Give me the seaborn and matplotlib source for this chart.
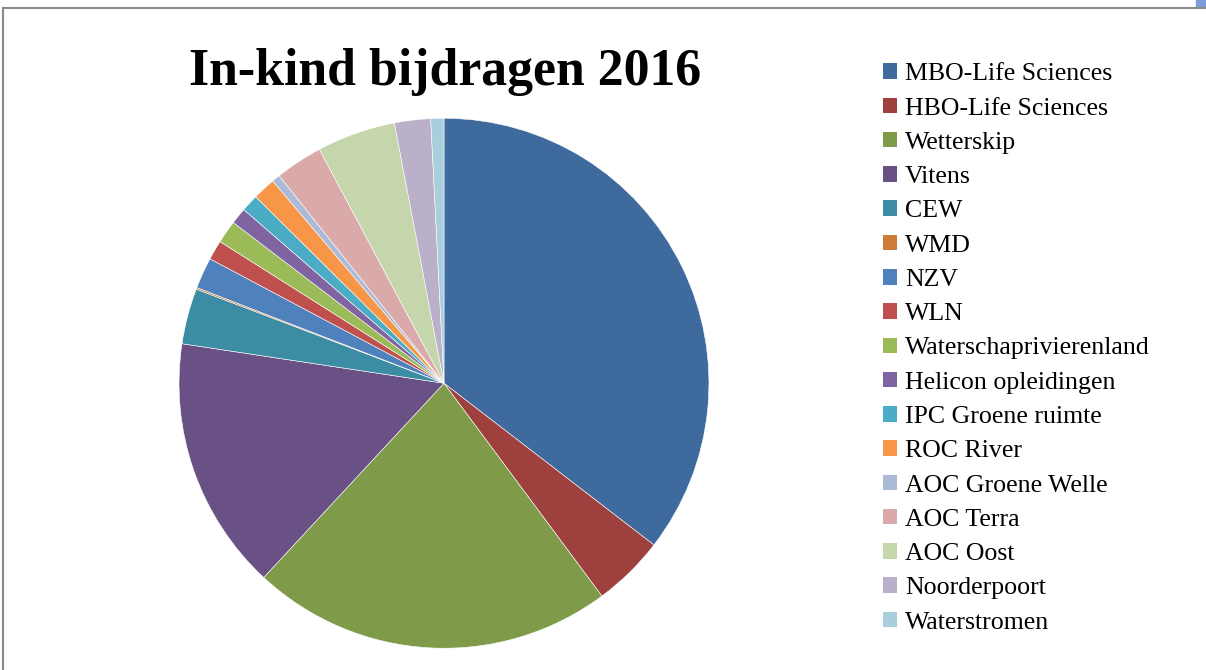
import matplotlib
matplotlib.use("Agg")
import matplotlib.pyplot as plt
import matplotlib.patches as mpatches
import matplotlib.lines as mlines
import seaborn as sns

# data (percent shares)
partners = ['MBO-Life Sciences', 'HBO-Life Sciences', 'Wetterskip', 'Vitens', 'CEW',
            'WMD', 'NZV', 'WLN', 'Waterschaprivierenland', 'Helicon opleidingen',
            'IPC Groene ruimte', 'ROC River', 'AOC Groene Welle', 'AOC Terra',
            'AOC Oost', 'Noorderpoort', 'Waterstromen']
bijdragen = [35.5, 4.4, 22.1, 15.5, 3.4, 0.1, 1.9, 1.2, 1.4, 1.0,
             1.05, 1.4, 0.5, 2.9, 4.8, 2.2, 0.8]
kleuren = ['#3F6A9E', '#9E413E', '#7F9A48', '#695185', '#3C8DA3', '#CC7B38',
           '#4F81BD', '#C0504D', '#9BBB59', '#8064A2', '#4BACC6', '#F79646',
           '#AABAD7', '#D9AAA9', '#C6D6AC', '#BAB0C9', '#A9CEDC']

sns.set_style("white")
plt.rcParams['font.family'] = ['Liberation Serif', 'DejaVu Serif']
plt.rcParams['text.color'] = 'black'

fig = plt.figure(figsize=(12.06, 6.70), dpi=100)
ax = fig.add_axes([0.1484, 0.0325, 0.4395, 0.791])

palette = sns.color_palette(kleuren)
wedges, _ = ax.pie(bijdragen, colors=palette, startangle=90, counterclock=False,
                   wedgeprops=dict(edgecolor='white', linewidth=0.4))
ax.set_xlim(-1, 1)
ax.set_ylim(-1, 1)
ax.set_aspect('equal')
ax.axis('off')

fig.text(0.369, 0.893, 'In-kind bijdragen 2016', ha='center', va='center',
         fontsize=37.3, fontweight='bold', color='black')

handles = [mpatches.Patch(facecolor=c, edgecolor='none') for c in palette]
fig.legend(handles, partners, loc='upper left', bbox_to_anchor=(0.7237, 0.921),
           frameon=False, fontsize=18.6, handlelength=0.55, handleheight=0.55,
           handletextpad=0.3, labelspacing=0.475, borderaxespad=0,
           labelcolor='black')

# chart area frame (left and top edges) and selection marker
fig.add_artist(mlines.Line2D([3 / 1206, 3 / 1206], [0, 1 - 8 / 670], color='#8a8a8a', lw=1.5))
fig.add_artist(mlines.Line2D([3 / 1206, 1], [1 - 8 / 670, 1 - 8 / 670], color='#8a8a8a', lw=1.5))
fig.add_artist(mpatches.Rectangle((1196 / 1206, 1 - 7 / 670), 10 / 1206, 7 / 670,
                                  transform=fig.transFigure, color='#7B9BD9'))

fig.savefig('out.png', dpi=100)
